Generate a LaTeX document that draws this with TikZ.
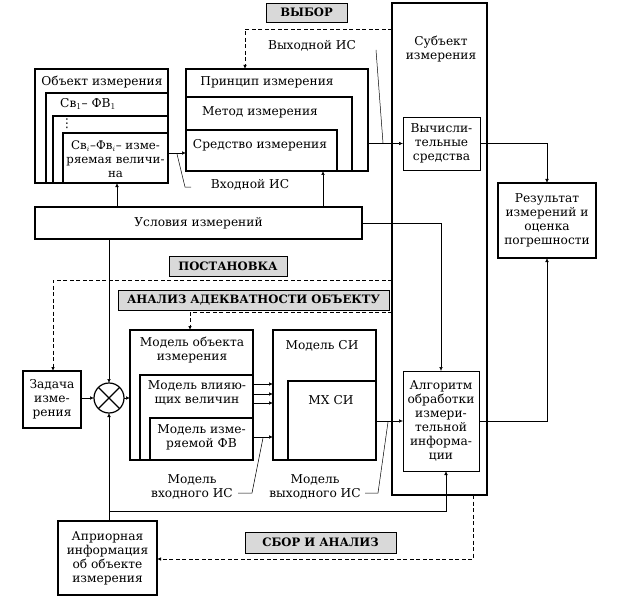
\documentclass[tikz,border=0pt]{standalone}
\usepackage{fontspec}
\setmainfont{DejaVu Serif}
\newfontfamily\symfont{DejaVu Sans}
\usetikzlibrary{arrows.meta,calc}
\newcommand\myfs{\fontsize{12.2}{14}\selectfont}
\newcommand\bx[6]{\node[#1, anchor=north west, minimum width={#4-#2}, minimum height={#5-#3}] (#6) at (#2,#3) {};}
\begin{document}
\begin{tikzpicture}[x=1pt,y=-1pt,
 thk/.style={draw, line width=1.7pt, inner sep=0pt, outer sep=0pt},
 thn/.style={draw, line width=0.8pt, inner sep=0pt, outer sep=0pt},
 tag/.style={draw, line width=0.7pt, fill=gray!30, font=\fontsize{11.6}{13}\selectfont\bfseries, inner sep=0pt, outer sep=0pt},
 txt/.style={align=center, inner sep=0pt, font=\myfs},
 conn/.style={line width=0.5pt},
 arr/.style={conn, -{Latex[length=4pt,width=3.5pt]}},
 dsh/.style={line width=0.9pt, dash pattern=on 4pt off 2.5pt},
 darr/.style={dsh, -{Latex[length=4pt,width=3.5pt]}}]
\useasboundingbox (0,0) rectangle (624,599);

% tags
\node[tag, minimum width=81pt, minimum height=19pt] (vybor) at (306.5,12.5) {ВЫБОР};
\node[tag, minimum width=118pt, minimum height=20pt] (postan) at (228,266) {ПОСТАНОВКА};
\node[tag, minimum width=271pt, minimum height=20pt] (analiz) at (253.5,300) {АНАЛИЗ АДЕКВАТНОСТИ ОБЪЕКТУ};
\node[tag, minimum width=151pt, minimum height=21pt] (sbor) at (320.5,542.5) {СБОР И АНАЛИЗ};

% object of measurement
\bx{thk}{35}{69}{168}{183}{obj}
\bx{thk}{46}{93}{168}{183}{sv1}
\bx{thk}{53}{116}{168}{183}{svd}
\bx{thk}{63}{133}{168}{183}{svi}
\node[txt] (tobj) at (102,82) {Объект измерения};
\node[txt] (tsv1) at (88,104) {Св$_1$– ФВ$_1$};
\node[txt] (tsvd) at (67,124) {\symfont ⋮};
\node[txt, font=\fontsize{11.8}{14}\selectfont] (tsvi) at (115.5,159.5) {Св$_i$–Фв$_i$– изме-\\ряемая величи-\\на};

% principle / method / means
\bx{thk}{186}{69}{368}{171}{princ}
\bx{thk}{186}{97}{352}{171}{metod}
\bx{thk}{186}{130}{337}{171}{sredst}
\node[txt] (tprinc) at (267,82) {Принцип измерения};
\node[txt] (tmetod) at (260,112) {Метод измерения};
\node[txt] (tsredst) at (260,145) {Средство измерения};

% conditions
\bx{thk}{35}{207}{362}{239}{usl}
\node[txt] (tusl) at (usl) {Условия измерений};

% subject
\bx{thk}{392}{3}{487}{495}{subj}
\node[txt] (tsubj) at (441,49) {Субъект\\измерения};
\bx{thn}{403}{117}{480}{170}{vych}
\node[txt] (tvych) at (vych) {Вычисли-\\тельные\\средства};
\bx{thn}{403}{371}{479}{471}{algo}
\node[txt] (talgo) at (algo) {Алгоритм\\обработки\\измери-\\тельной\\информа-\\ции};

% result
\bx{thk}{498}{183}{596}{258}{res}
\node[txt] (tres) at (res) {Результат\\измерений и\\оценка\\погрешности};

% task, comparator
\bx{thk}{23}{371}{81}{428}{zad}
\node[txt] (tzad) at (zad) {Задача\\изме-\\рения};
\node[draw, circle, line width=1.2pt, minimum size=30pt, inner sep=0pt, outer sep=0pt] (circ) at (109,398) {};
\draw[line width=1.2pt] (circ.north east) -- (circ.south west) (circ.north west) -- (circ.south east);

% models
\bx{thk}{130}{330}{253}{460}{mobj}
\bx{thk}{140}{375}{253}{460}{mvl}
\bx{thk}{150}{418}{253}{460}{mfv}
\node[txt] (tmobj) at (192,350) {Модель объекта\\измерения};
\node[txt] (tmvl) at (197,393) {Модель влияю-\\щих величин};
\node[txt] (tmfv) at (201.5,437) {Модель изме-\\ряемой ФВ};
\bx{thk}{273}{330}{376}{460}{msi}
\bx{thk}{288}{381}{376}{460}{mxsi}
\node[txt] (tmsi) at (322,346) {Модель СИ};
\node[txt] (tmxsi) at (331,400) {МХ СИ};

% a priori info
\bx{thk}{58}{521}{157}{595}{apr}
\node[txt] (tapr) at (apr) {Априорная\\информация\\об объекте\\измерения};

% labels
\node[txt] (lvyh) at (312,46) {Выходной ИС};
\node[txt] (lvh) at (250,185) {Входной ИС};
\node[txt] (lmvh) at (192,487) {Модель\\входного ИС};
\node[txt] (lmvyh) at (315,487) {Модель\\выходного ИС};

% coordinates
\coordinate (cv) at (245,29);
\coordinate (cp) at (53,280);
\coordinate (ca) at (190,312);
\coordinate (cs) at (473,559);
\coordinate (x117) at (117,0);
\coordinate (x323) at (323,0);
\coordinate (y153) at (0,153);
\coordinate (cb) at (446,511);

% dashed stage lines
\draw[darr] (subj.west |- cv) -- (cv) -- (cv |- princ.north);
\draw[darr] (subj.west |- cp) -- (cp) -- (cp |- zad.north);
\draw[darr] (subj.west |- ca) -- (ca) -- (ca |- mobj.north);
\draw[darr] (cs |- subj.south) -- (cs) -- (cs -| apr.east);

% connectors
\draw[arr] (svi.east |- y153) -- (sredst.west |- y153);
\draw[arr] (vych.west -| princ.east) -- (vych.west);
\draw[arr] (vych.east) -| (res.north);
\draw[arr] (algo.east) -| (res.south);
\draw[arr] (usl.north -| x117) -- (obj.south -| x117);
\draw[arr] (usl.north -| x323) -- (princ.south -| x323);
\draw[arr] (usl.east) -| (algo.north);
\draw[arr] (usl.south -| circ) -- (circ.north);
\draw[arr] (apr.north -| circ) -- (circ.south);
\draw[arr] (circ |- cb) -- (cb) -- (cb |- algo.south);
\draw[arr] (zad.east |- circ) -- (circ.west);
\draw[arr] (circ.east) -- (circ.east -| mobj.west);
\foreach \yy in {384,394,403,437} {
  \draw[arr] (mvl.east |- 0,\yy) -- (msi.west |- 0,\yy);
}
\draw[arr] (msi.east |- algo.west) -- (algo.west);

% leader lines
\draw[conn] (376,50) -- (383,143);
\draw[conn] (177,154) -- (185,187) -- (191,187);
\draw[conn] (238,493) -- (252,493) -- (263,438);
\draw[conn] (365,493) -- (378,493) -- (388,422);
\end{tikzpicture}
\end{document}
